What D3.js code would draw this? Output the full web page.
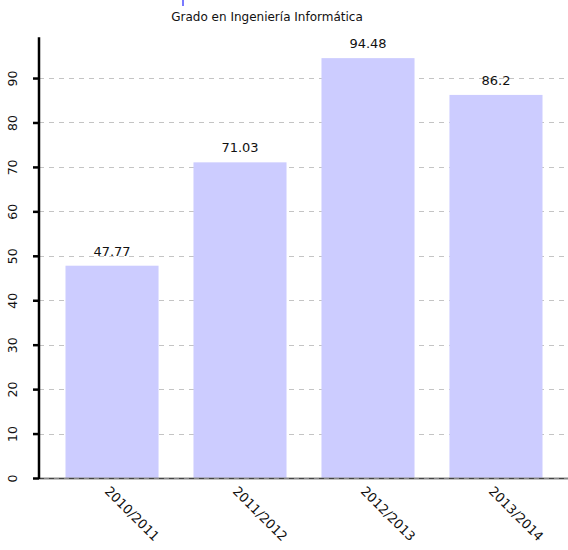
<!DOCTYPE html>
<html>
<head>
<meta charset="utf-8">
<script src="https://cdn.jsdelivr.net/npm/d3@7"></script>
<style>
  body { margin: 0; background: #fff; }
  svg { font-family: "DejaVu Sans", sans-serif; }
</style>
</head>
<body>
<div class="D3"></div>
<script>
// data
var title = "Grado en Ingeniería Informática";
var years = ["2010/2011", "2011/2012", "2012/2013", "2013/2014"];
var values = [47.77, 71.03, 94.48, 86.2];
var yTicks = [0, 10, 20, 30, 40, 50, 60, 70, 80, 90];

var svgWidth = 568;
var svgHeight = 550;

// plot area
var x0 = 39, x1 = 569, yBottom = 478;

var svg = d3.select(".D3")
  .append("svg")
  .attr("width", svgWidth)
  .attr("height", svgHeight);

var yMax = d3.max(values) * 1.05;
var yScale = d3.scaleLinear()
  .domain([0, yMax])
  .range([yBottom, yBottom - yMax * 4.444]);

var xScale = d3.scaleBand()
  .domain(years)
  .range([x0, x1])
  .paddingInner(0.273)
  .paddingOuter(0.207);

// bit of a legend swatch cut off at the top
svg.append("rect")
  .attr("x", 182).attr("y", 0)
  .attr("width", 2).attr("height", 6)
  .attr("fill", "#7a7aff");

// title
svg.append("text")
  .attr("x", 267)
  .attr("y", 21)
  .attr("text-anchor", "middle")
  .style("font-size", "12px")
  .attr("fill", "#111")
  .text(title);

// dashed grid lines
svg.append("g")
  .selectAll("line")
  .data(yTicks)
  .enter()
  .append("line")
  .attr("x1", x0)
  .attr("x2", svgWidth)
  .attr("y1", d => Math.round(yScale(d)) + 0.5)
  .attr("y2", d => Math.round(yScale(d)) + 0.5)
  .attr("stroke", "#c4c4c4")
  .attr("stroke-dasharray", "5,5");

// bars
svg.append("g")
  .selectAll("rect")
  .data(values)
  .enter()
  .append("rect")
  .attr("x", (d, i) => xScale(years[i]))
  .attr("y", d => yScale(d))
  .attr("width", xScale.bandwidth())
  .attr("height", d => yBottom - yScale(d))
  .attr("fill", "#ccccff");

// value labels
svg.append("g")
  .selectAll("text")
  .data(values)
  .enter()
  .append("text")
  .attr("x", (d, i) => xScale(years[i]) + xScale.bandwidth() / 2)
  .attr("y", d => yScale(d) - 10)
  .attr("text-anchor", "middle")
  .style("font-size", "13px")
  .attr("fill", "#111")
  .text(d => d);

// x axis baseline: grey line with darker dashes on top
svg.append("line")
  .attr("x1", x0).attr("x2", svgWidth)
  .attr("y1", yBottom + 0.5).attr("y2", yBottom + 0.5)
  .attr("stroke", "#888")
  .attr("stroke-width", 2);
svg.append("line")
  .attr("x1", x0).attr("x2", svgWidth)
  .attr("y1", yBottom + 0.5).attr("y2", yBottom + 0.5)
  .attr("stroke", "#444")
  .attr("stroke-dasharray", "5,5");

// x labels, rotated
svg.append("g")
  .selectAll("text")
  .data(years)
  .enter()
  .append("text")
  .attr("transform", d => `translate(${xScale(d) + xScale.bandwidth() / 2 - 8}, ${yBottom + 14}) rotate(45)`)
  .style("font-size", "13px")
  .attr("fill", "#111")
  .text(d => d);

// y axis
var leftAxis = d3.axisLeft(yScale)
  .tickValues(yTicks)
  .tickSize(6)
  .tickFormat(d3.format("d"));

var yAxis = svg.append("g")
  .attr("transform", `translate(${x0}, 0)`)
  .call(leftAxis);

yAxis.select(".domain")
  .attr("stroke", "#000")
  .attr("stroke-width", 2.5)
  .attr("d", `M0,${yScale(yMax)}V${yBottom + 1}`);

yAxis.selectAll(".tick line")
  .attr("stroke", "#000")
  .attr("stroke-width", 2.5);

yAxis.selectAll(".tick text")
  .attr("x", 0)
  .attr("y", 0)
  .attr("dy", "0.35em")
  .attr("transform", "translate(-26, 0) rotate(-90)")
  .attr("text-anchor", "middle")
  .style("font-size", "12.5px")
  .style("font-family", "DejaVu Sans, sans-serif")
  .attr("fill", "#111");
</script>
</body>
</html>
